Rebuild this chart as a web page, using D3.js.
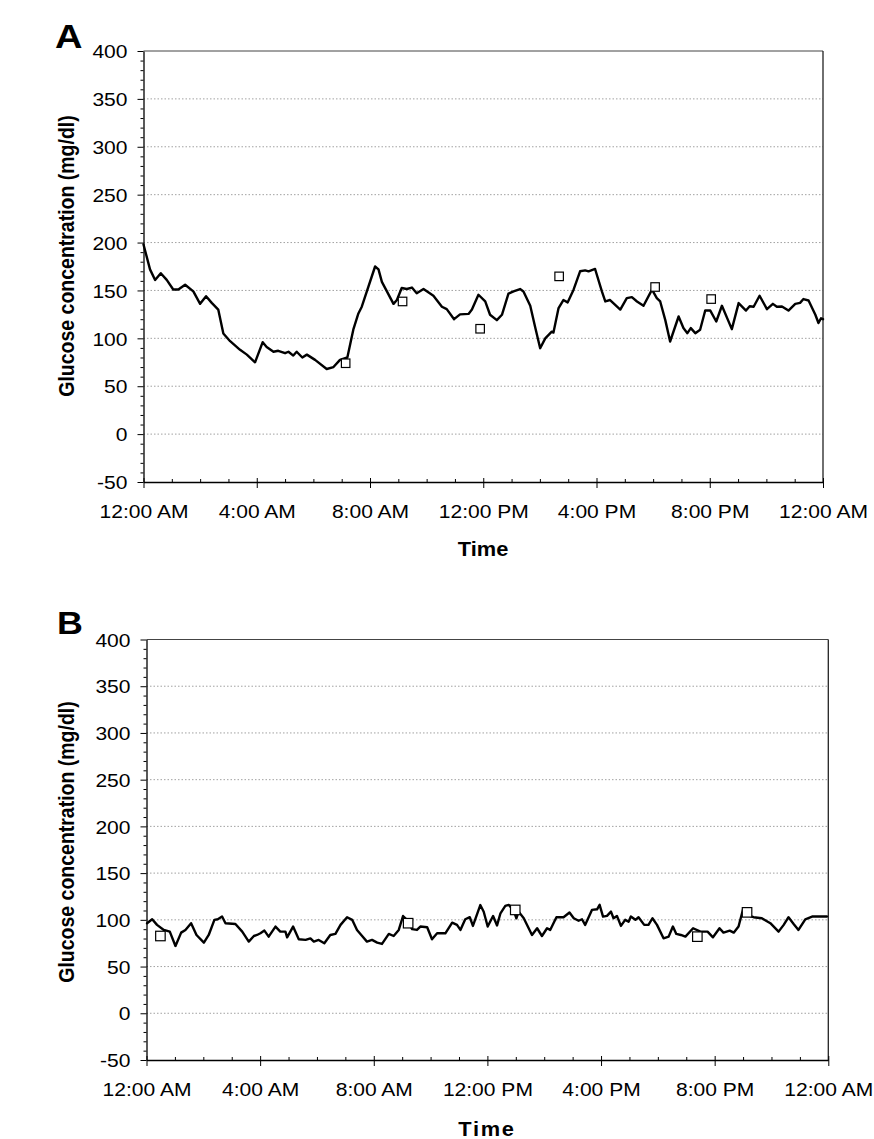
<!DOCTYPE html>
<html>
<head>
<meta charset="utf-8">
<script src="https://cdn.jsdelivr.net/npm/d3@7/dist/d3.min.js"></script>
<style>
  html, body { margin: 0; padding: 0; background: #fff; }
  svg { display: block; font-family: "Liberation Sans", Arial, sans-serif; }
</style>
</head>
<body>
<script>
// ---------------- DATA ----------------
const timeTickValues = [0, 4, 8, 12, 16, 20, 24];
const timeTickLabels = ["12:00 AM", "4:00 AM", "8:00 AM", "12:00 PM", "4:00 PM", "8:00 PM", "12:00 AM"];
const glucoseTicks = [-50, 0, 50, 100, 150, 200, 250, 300, 350, 400];

// Panel A: continuous sensor trace (hours since midnight, mg/dl)
const sensorHoursA = [0,0.23,0.41,0.61,0.82,1.05,1.23,1.47,1.76,2.0,2.21,2.41,2.64,2.82,3.06,3.41,3.65,3.94,4.21,4.35,4.59,4.76,5.0,5.12,5.29,5.41,5.61,5.77,6.06,6.47,6.71,6.94,7.2,7.41,7.59,7.71,8.18,8.3,8.42,8.83,8.95,9.12,9.3,9.48,9.65,9.89,10.24,10.54,10.71,10.97,11.18,11.48,11.6,11.83,12.07,12.24,12.48,12.66,12.89,13.07,13.3,13.42,13.66,13.83,14.01,14.19,14.42,14.48,14.66,14.83,14.98,15.19,15.42,15.6,15.72,15.95,16.19,16.31,16.48,16.84,17.07,17.25,17.43,17.66,17.96,18.13,18.25,18.43,18.6,18.9,19.07,19.21,19.33,19.49,19.66,19.84,20.02,20.23,20.43,20.78,21.02,21.28,21.41,21.55,21.76,22.02,22.23,22.37,22.55,22.78,23.02,23.19,23.31,23.49,23.73,23.84,23.93,24.0];
const sensorGlucoseA = [198,172,161,168,161,151,151,156,149,136,144,137,130,105,97,88,83,75,96,91,86,87,84.5,86,82,86,80,83,77.5,68,70,77.5,80,109,126,133,175,172,159,136,140,152.5,151.5,153,147,151.5,144.5,133,130.5,120,125,125.5,130,145.5,138.5,124.6,119,124.6,146.6,149,151.5,149,134,112,89.7,100,107,106,131.6,140,137.5,150.8,170,171,170,172.4,149,138.5,140,130,142,143,138.5,134,150.8,142,138.5,119,96.7,122.8,110.7,105.4,110.7,105.4,109,129,129,117.6,134,109.6,136.8,129,133.5,133,144.5,130.5,136,133,133.3,129,136,137,141,139.5,124.6,116,121,120];
// Panel A: meter readings (squares)
const meterHoursA = [7.14, 9.15, 11.89, 14.68, 18.07, 20.05];
const meterGlucoseA = [74, 138.5, 110, 164.7, 153.6, 141];

// Panel B: continuous sensor trace
const sensorHoursB = [0.02,0.2,0.37,0.61,0.82,1.02,1.22,1.37,1.57,1.76,2.02,2.19,2.39,2.51,2.66,2.78,3.13,3.37,3.6,3.78,3.89,4.01,4.15,4.3,4.54,4.71,4.89,4.95,5.16,5.36,5.6,5.77,5.89,6.06,6.26,6.47,6.65,6.83,7.06,7.24,7.41,7.59,7.76,7.94,8.12,8.29,8.53,8.7,8.88,9.03,9.17,9.35,9.52,9.64,9.88,10.05,10.23,10.52,10.76,10.93,11.05,11.22,11.38,11.49,11.75,11.87,12.01,12.2,12.34,12.46,12.63,12.75,12.92,13.02,13.1,13.28,13.57,13.75,13.92,14.1,14.21,14.43,14.68,14.89,15.04,15.21,15.33,15.44,15.68,15.86,15.95,16.07,16.21,16.35,16.44,16.56,16.7,16.85,16.97,17.05,17.21,17.32,17.52,17.67,17.81,17.97,18.2,18.38,18.53,18.65,18.81,18.97,19.24,19.5,19.75,19.94,20.17,20.31,20.53,20.67,20.84,21.0,21.14,21.37,21.66,21.96,22.25,22.43,22.6,22.78,22.95,23.19,23.43,23.72,23.95];
const sensorGlucoseB = [96.4,100.6,94.6,89.2,87.4,72,86.3,89.2,96.4,83.8,75.6,83.8,100,100.6,103.5,96.4,95.6,87.4,76.7,82.7,83.8,85.6,88.5,82,92.8,87.4,87.4,81.3,92.8,79.2,78.5,80.2,76.7,78.5,74.9,83.8,84.9,94.6,102.8,100,89.2,82.7,76.7,78.5,75.6,74.2,84.9,82.7,89.2,104.1,100,90,89.2,92.8,92,79.2,85.6,85.6,97,94.6,89.2,100.6,102.8,93.5,115.8,108.7,92.8,104.1,94,107,114.9,116,110.6,101.7,108.8,101.7,83.8,91,82.7,91,89.2,102.8,102.8,107.8,101.7,99,100.6,94.6,110.6,111.3,116,103.5,104.2,108.8,101.7,104.2,93.5,100,98,103.5,100,102.8,94.6,94.6,101.7,94.6,80.2,82,92.8,84.9,83.8,82,91,87.4,87.4,81.3,91,86.3,88.5,86.3,92.8,111.3,105,102.8,101.7,96.4,87.4,94.6,102.8,95.6,89.2,100.6,103.5,103.5,103.5];
// Panel B: meter readings
const meterHoursB = [0.49, 9.21, 12.98, 19.39, 21.14];
const meterGlucoseB = [82.7, 96.4, 110.6, 82, 108];

// ---------------- DRAWING ----------------
const SX = 1.12; // horizontal text stretch of the original figure
const FONT = '"Liberation Sans", Arial, sans-serif';

const svg = d3.select("body").append("svg")
  .attr("width", 874).attr("height", 1139);

const panels = [
  { label: "A", lx: 55, ly: 48, lsize: 34,
    left: 143.5, right: 823, top: 51, bottom: 482,
    hours: sensorHoursA, values: sensorGlucoseA,
    mHours: meterHoursA, mValues: meterGlucoseA, sq: 8.5,
    titleY: 256, timeX: 483, timeY: 556, timeSpacing: 0 },
  { label: "B", lx: 57, ly: 634, lsize: 32,
    left: 146.5, right: 828.3, top: 639.5, bottom: 1060,
    hours: sensorHoursB, values: sensorGlucoseB,
    mHours: meterHoursB, mValues: meterGlucoseB, sq: 9.5,
    titleY: 842, timeX: 487, timeY: 1136, timeSpacing: 1.5 }
];

function stretchedText(parent, x, y, str, opts) {
  const g = parent.append("g")
    .attr("transform", `translate(${x},${y}) scale(${SX},1)` + (opts.rotate ? ` rotate(${opts.rotate})` : ""));
  const t = g.append("text")
    .attr("x", 0).attr("y", 0)
    .attr("text-anchor", opts.anchor || "start")
    .attr("font-family", FONT)
    .attr("font-size", opts.size)
    .attr("font-weight", opts.weight || "normal")
    .attr("fill", "#000")
    .text(str);
  if (opts.spacing) t.attr("letter-spacing", opts.spacing);
  return t;
}

panels.forEach(p => {
  const x = d3.scaleLinear().domain([0, 24]).range([p.left, p.right]);
  const y = d3.scaleLinear().domain([-50, 400]).range([p.bottom, p.top]);
  const g = svg.append("g");

  // gridlines
  g.append("g").selectAll("line")
    .data(glucoseTicks.filter(v => v > -50 && v < 400))
    .join("line")
    .attr("x1", p.left).attr("x2", p.right)
    .attr("y1", d => y(d)).attr("y2", d => y(d))
    .attr("stroke", "#8a8a8a").attr("stroke-width", 0.8)
    .attr("stroke-dasharray", "1.5,2");

  // top and right frame
  g.append("line").attr("x1", p.left).attr("x2", p.right)
    .attr("y1", y(400)).attr("y2", y(400))
    .attr("stroke", "#444").attr("stroke-width", 1);
  g.append("line").attr("x1", p.right).attr("x2", p.right)
    .attr("y1", y(400)).attr("y2", y(-50))
    .attr("stroke", "#222").attr("stroke-width", 1.3);

  // y axis: minor ticks
  const minorY = d3.range(-50, 401, 10).filter(v => v % 50 !== 0);
  const yMinor = g.append("g").attr("transform", `translate(${p.left},0)`)
    .call(d3.axisLeft(y).tickValues(minorY).tickSize(3).tickSizeOuter(0).tickFormat(""));
  yMinor.select(".domain").remove();
  // y axis: major ticks + labels (plain hyphen minus as in the original)
  const yMajor = g.append("g").attr("transform", `translate(${p.left},0)`)
    .call(d3.axisLeft(y).tickValues(glucoseTicks).tickSize(6).tickSizeOuter(0).tickFormat(d => String(d)));
  yMajor.selectAll("text")
    .attr("font-family", FONT).attr("font-size", 18.8).attr("fill", "#000")
    .attr("x", -16 / SX).attr("dy", null).attr("y", 6.7)
    .attr("transform", `scale(${SX},1)`);
  yMajor.select(".domain").attr("stroke", "#000").attr("stroke-width", 1.3);

  // x axis
  const minorX = d3.range(0, 25, 1).filter(v => v % 4 !== 0);
  const xAxisG = g.append("g").attr("transform", `translate(0,${p.bottom})`)
    .call(d3.axisBottom(x).tickValues(timeTickValues).tickSize(6).tickSizeOuter(0)
      .tickFormat((d, i) => timeTickLabels[i]));
  xAxisG.selectAll("text")
    .attr("font-family", FONT).attr("font-size", 18.8).attr("fill", "#000")
    .attr("x", 0).attr("dy", null).attr("y", 36)
    .attr("transform", `scale(${SX},1)`);
  xAxisG.select(".domain").attr("stroke", "#000").attr("stroke-width", 1.3);
  const xUp = g.append("g").attr("transform", `translate(0,${p.bottom})`)
    .call(d3.axisTop(x).tickValues(timeTickValues).tickSize(4).tickSizeOuter(0).tickFormat(""));
  xUp.select(".domain").remove();
  const xMinor = g.append("g").attr("transform", `translate(0,${p.bottom})`)
    .call(d3.axisTop(x).tickValues(minorX).tickSize(3).tickSizeOuter(0).tickFormat(""));
  xMinor.select(".domain").remove();
  g.selectAll(".tick line").attr("stroke", "#000");

  // sensor line
  const line = d3.line()
    .x((d, i) => x(p.hours[i]))
    .y(d => y(d))
    .curve(d3.curveLinear);
  g.append("path")
    .datum(p.values)
    .attr("d", line)
    .attr("fill", "none")
    .attr("stroke", "#000")
    .attr("stroke-width", 2.4)
    .attr("stroke-linejoin", "round")
    .attr("stroke-linecap", "round");

  // meter squares
  g.append("g").selectAll("rect")
    .data(p.mValues)
    .join("rect")
    .attr("x", (d, i) => x(p.mHours[i]) - p.sq / 2)
    .attr("y", d => y(d) - p.sq / 2)
    .attr("width", p.sq).attr("height", p.sq)
    .attr("fill", "#fff").attr("stroke", "#000").attr("stroke-width", 1.2);

  // panel letter
  stretchedText(g, p.lx, p.ly, p.label, { size: p.lsize, weight: "bold" });
  // y title
  stretchedText(g, 74, p.titleY, "Glucose concentration (mg/dl)",
    { size: 19.5, weight: "bold", anchor: "middle", rotate: -90 });
  // x title
  stretchedText(g, p.timeX, p.timeY, "Time",
    { size: 19.5, weight: "bold", anchor: "middle", spacing: p.timeSpacing });
});
</script>
</body>
</html>
